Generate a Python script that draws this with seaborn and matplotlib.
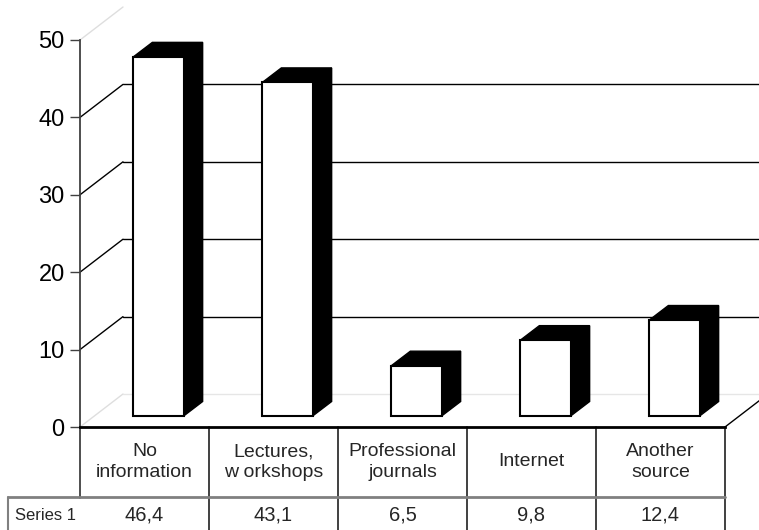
import numpy as np
import pandas as pd
import seaborn as sns
import matplotlib
matplotlib.use("Agg")
import matplotlib.pyplot as plt
from matplotlib.transforms import ScaledTranslation, Affine2D, IdentityTransform, blended_transform_factory
from matplotlib.patches import Polygon
from matplotlib.lines import Line2D

# ---- data ----
categories = ["No\ninformation", "Lectures,\nw orkshops", "Professional\njournals", "Internet", "Another\nsource"]
values = [46.4, 43.1, 6.5, 9.8, 12.4]
value_labels = ["46,4", "43,1", "6,5", "9,8", "12,4"]
series_name = "Series 1"
yticks = [0, 10, 20, 30, 40, 50]

W, H = 759, 530
sns.set_theme(style="white")
plt.rcParams["font.family"] = ["Liberation Sans", "DejaVu Sans"]

fig = plt.figure(figsize=(W / 100, H / 100), dpi=100)
fig.patch.set_facecolor("white")

ax = fig.add_axes([80 / W, (H - 427) / H, (725 - 80) / W, (427 - 40) / H])
ax.set_facecolor("none")

df = pd.DataFrame({"cat": categories, "val": values})
sns.barplot(data=df, x="cat", y="val", color="white", edgecolor="black",
            linewidth=1.5, width=0.39, saturation=1, ax=ax, zorder=4)
ax.set_xlim(-0.5, len(categories) - 0.5)
ax.set_ylim(0, 50)
ax.set_xlabel("")
ax.set_ylabel("")
ax.set_xticks([])
ax.set_yticks(yticks)
ax.set_yticklabels([str(t) for t in yticks])
ax.tick_params(axis="y", left=True, length=7, width=1, color="#404040",
               labelsize=17, pad=4, labelcolor="black")
for s in ["top", "right"]:
    ax.spines[s].set_visible(False)
ax.spines["left"].set_color("#404040")
ax.spines["left"].set_linewidth(1.3)
ax.spines["bottom"].set_color("black")
ax.spines["bottom"].set_linewidth(2)
ax.spines["bottom"].set_zorder(6)

# pixel transform (image coords, origin top-left)
pix = Affine2D().scale(1, -1).translate(0, H)
ident = IdentityTransform()

# bar placement inside the 3D box
shift = ScaledTranslation(14 / 100, 11 / 100, fig.dpi_scale_trans)
T = ax.transData + shift
depth = np.array([19.0, 14.5])
for p in ax.patches:
    p.set_transform(T)
    p.set_clip_on(False)
    x0, w, h = p.get_x(), p.get_width(), p.get_height()
    c = T.transform([(x0, 0), (x0 + w, 0), (x0 + w, h), (x0, h)])
    top = [c[3], c[2], c[2] + depth, c[3] + depth]
    side = [c[1], c[2], c[2] + depth, c[1] + depth]
    for poly in (top, side):
        ax.add_patch(Polygon(poly, closed=True, transform=ident, facecolor="black",
                             edgecolor="black", linewidth=1, zorder=3, clip_on=False))

# back wall gridlines
wall = np.array([43.0, 33.0])
for v in yticks:
    f = ax.transData.transform((-0.5, v))
    b = f + wall
    col = "black" if 0 < v < 50 else "#dedede"
    ax.add_line(Line2D([f[0], b[0]], [f[1], b[1]], transform=ident, color=col,
                       linewidth=1, zorder=1, clip_on=False))
    if v < 50:
        ax.add_line(Line2D([b[0], W], [b[1], b[1]], transform=ident,
                           color=col if v > 0 else "#e6e6e6",
                           linewidth=1, zorder=1, clip_on=False))
# floor right edge
f = ax.transData.transform((len(categories) - 0.5, 0))
b = f + wall
ax.add_line(Line2D([f[0], b[0]], [f[1], b[1]], transform=ident, color="black",
                   linewidth=1, zorder=1, clip_on=False))

# ---- data table ----
xb = blended_transform_factory(ax.transData, pix)
for k in range(1, len(categories) + 1):
    ax.add_line(Line2D([k - 0.5, k - 0.5], [427, H], transform=xb, color="#202020",
                       linewidth=1.2, zorder=5, clip_on=False))
ax.add_line(Line2D([-0.5, -0.5], [427, 498], transform=xb, color="#404040",
                   linewidth=1.3, zorder=5, clip_on=False))
fig.add_artist(Line2D([8, ax.transData.transform((len(categories) - 0.5, 0))[0]], [497, 497],
                      transform=pix, color="#808080", linewidth=2))
fig.add_artist(Line2D([8, 8], [497, H], transform=pix, color="#808080", linewidth=1.5))

for i, (cat, lab) in enumerate(zip(categories, value_labels)):
    ax.text(i, 462, cat, transform=xb, ha="center", va="center", fontsize=14,
            linespacing=1.3, clip_on=False)
    ax.text(i, 515, lab, transform=xb, ha="center", va="center", fontsize=14.5,
            clip_on=False)
fig.text(15 / W, 1 - 515 / H, series_name, ha="left", va="center", fontsize=12)

fig.savefig("out.png", dpi=100, facecolor="white")
